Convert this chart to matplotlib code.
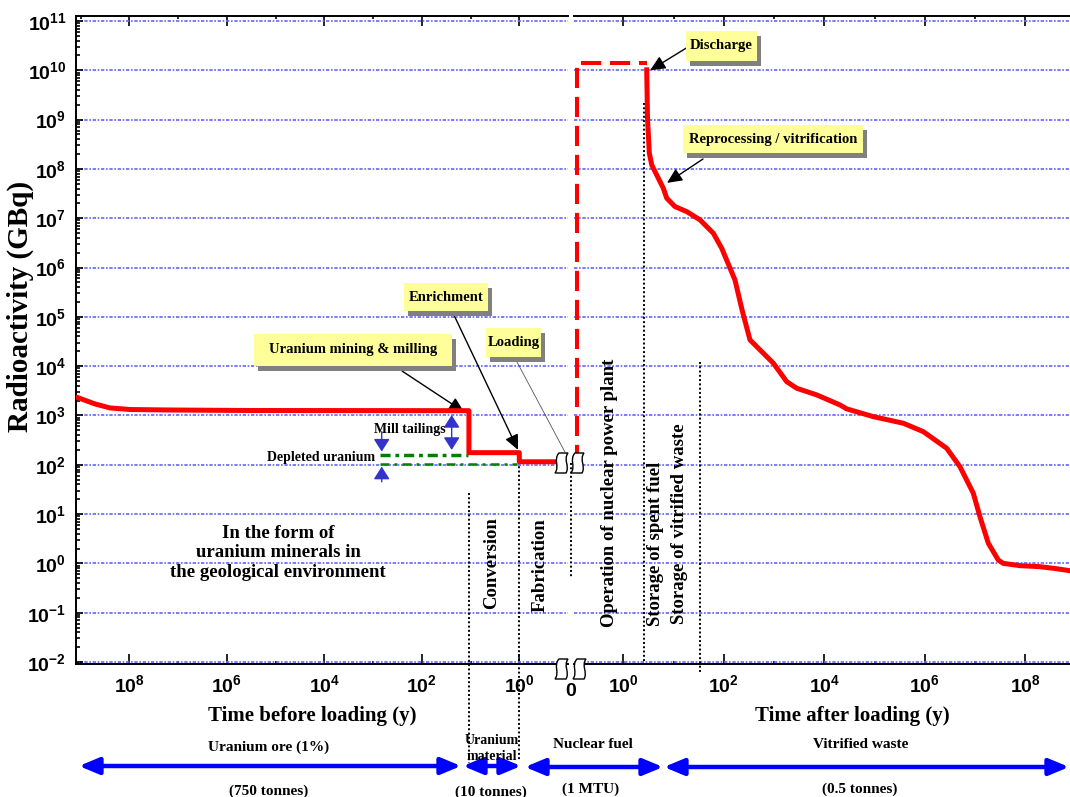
import numpy as np
import matplotlib
matplotlib.use('Agg')
import matplotlib.pyplot as plt
from matplotlib.patches import Rectangle, PathPatch, FancyArrowPatch
from matplotlib.path import Path
from matplotlib.ticker import FixedLocator, FuncFormatter, NullFormatter, LogLocator

plt.rcParams['font.family'] = 'Liberation Serif'
plt.rcParams['font.weight'] = 'bold'
plt.rcParams['mathtext.fontset'] = 'custom'
plt.rcParams['mathtext.bf'] = 'Liberation Sans:bold'
plt.rcParams['mathtext.rm'] = 'Liberation Sans:bold'

W, H = 1070, 797

# --- donnees (temps en annees, activite en GBq) ---
t_avant = [1.24e9, 5.06e8, 2.49e8, 9.7e7, 1.46e7, 3.34e5, 10.8, 10.8, 1.0, 1.0, 0.14]
a_avant = [2370, 1710, 1420, 1320, 1290, 1260, 1250, 176, 176, 115, 115]

t_reacteur = [0.117, 0.117, 2.9]
a_reacteur = [100, 1.38e10, 1.38e10]

t_apres = [2.90, 3.01, 3.27, 3.65, 4.93, 6.21, 7.26, 10.6, 18.2, 33.4, 61.5, 90.4,
           166, 230, 331, 385, 964, 1.78e3, 2.82e3, 7.06e3, 2.06e4, 2.79e4, 9.46e4,
           3.75e5, 9.4e5, 2.74e6, 5.05e6, 9.3e6, 1.26e7, 1.85e7, 2.92e7, 3.68e7,
           7.9e7, 1.98e8, 4.26e8, 7.8e8]
a_apres = [1.02e10, 1.03e9, 2.08e8, 1.2e8, 6.5e7, 4.05e7, 2.55e7, 1.72e7, 1.36e7,
           9.25e6, 4.97e6, 2.46e6, 5.6e5, 1.38e5, 3.4e4, 2.92e4, 1.15e4, 4.86e3,
           3.56e3, 2.61e3, 1.63e3, 1.36e3, 946, 695, 469, 216, 91, 26.4, 8.85, 2.56,
           1.17, 1.0, 0.90, 0.857, 0.78, 0.71]

# residus (mill tailings / depleted uranium)
t_tailings = [720, 11.3]
a_tailings = [160, 160]
t_depleted = [720, 1.13]
a_depleted = [102, 102]

# limites des etapes (traits pointilles verticaux): (axe, t, a_haut, a_bas)
limites = [('avant', 10.8, 26.8, 9e-5),
           ('avant', 1.0, 115, 1.0e-4),
           ('avant', 0.087, 110, 0.506),
           ('apres', 2.56, 2.2e9, 9.1e-3),
           ('apres', 33.4, 1.2e4, 6.3e-3)]

exp_y = list(range(-2, 12))
exp_x_major = [0, 2, 4, 6, 8]
exp_x_minor = [1, 3, 5, 7, 9]


def etiquette(v, pos):
    return r'$\mathbf{10^{%d}}$' % int(round(np.log10(v)))


def fx(x):
    return x / W


def fy(y):
    return 1 - y / H


fig = plt.figure(figsize=(W / 100, H / 100), dpi=100)
ax_b = fig.add_axes([fx(76), fy(664), (568 - 76) / W, (664 - 16) / H])
ax_a = fig.add_axes([fx(574), fy(664), (W - 574) / W, (664 - 16) / H])

for ax in (ax_b, ax_a):
    ax.set_xscale('log')
    ax.set_yscale('log')
    ax.set_ylim(10 ** -2.04, 10 ** 11.10)
    ax.yaxis.set_major_locator(FixedLocator([10.0 ** e for e in exp_y]))
    ax.yaxis.set_minor_locator(LogLocator(base=10, subs=np.arange(2, 10), numticks=100))
    ax.yaxis.set_major_formatter(FuncFormatter(etiquette))
    ax.yaxis.set_minor_formatter(NullFormatter())
    ax.xaxis.set_major_locator(FixedLocator([10.0 ** e for e in exp_x_major]))
    ax.xaxis.set_minor_locator(FixedLocator([10.0 ** e for e in exp_x_minor]))
    ax.xaxis.set_major_formatter(FuncFormatter(etiquette))
    ax.xaxis.set_minor_formatter(NullFormatter())
    ax.yaxis.grid(True, which='major', color='#6464ff', lw=1.2, ls=(0, (2, 1, 1, 1)))
    ax.set_axisbelow(True)
    for s in ax.spines.values():
        s.set_linewidth(1.4)
    ax.tick_params(axis='x', which='both', direction='in', top=True, bottom=True,
                   width=1.2, labelsize=14, pad=7)
    ax.tick_params(axis='x', which='major', length=7)
    ax.tick_params(axis='x', which='minor', length=2.5)
    ax.tick_params(axis='y', which='both', direction='in', width=1.2, labelsize=14, pad=7)
    ax.tick_params(axis='y', which='major', length=5)
    ax.tick_params(axis='y', which='minor', length=3)

ax_b.set_xlim(10 ** 9.094, 10 ** -0.999)
ax_b.spines['right'].set_visible(False)
ax_b.tick_params(axis='y', which='both', right=False)

ax_a.set_xlim(10 ** -0.986, 10 ** 8.894)
ax_a.spines['left'].set_visible(False)
ax_a.spines['right'].set_visible(False)
ax_a.tick_params(axis='y', which='both', left=False, right=False, labelleft=False)

# courbe rouge
ax_b.plot(t_avant, a_avant, color='red', lw=3.6, solid_joinstyle='round', zorder=5)
ax_a.plot(t_reacteur, a_reacteur, color='red', lw=2.9, dashes=(5, 2.2), zorder=5)
ax_a.plot(t_apres, a_apres, color='red', lw=3.6, solid_joinstyle='round', zorder=5)

# residus
ax_b.plot(t_tailings, a_tailings, color='#008000', lw=2.5, dashes=(2.9, 1.4, 1.1, 1.4), zorder=4)
ax_b.plot(t_depleted, a_depleted, color='#008000', lw=1.8, dashes=(3.6, 2, 1.2, 2), zorder=4)

# limites des etapes
for nom, t, a_haut, a_bas in limites:
    axe = ax_b if nom == 'avant' else ax_a
    axe.plot([t, t], [a_haut, a_bas], color='black', lw=1.4, ls=(0, (1, 1.2)),
             clip_on=False, zorder=3)

# fleches bleues mill tailings / depleted
fl_bleu = dict(color='#3333cc', lw=1.0, shrinkA=0, shrinkB=0, mutation_scale=14)
ax_b.annotate('', xy=(24.4, 1020), xytext=(24.4, 200),
              arrowprops=dict(arrowstyle='<|-|>,head_length=0.55,head_width=0.35', **fl_bleu))
ax_b.annotate('', xy=(665, 185), xytext=(665, 470),
              arrowprops=dict(arrowstyle='-|>,head_length=0.55,head_width=0.35', **fl_bleu))
ax_b.annotate('', xy=(665, 91.6), xytext=(665, 45),
              arrowprops=dict(arrowstyle='-|>,head_length=0.55,head_width=0.35', **fl_bleu))

fig.text(fx(409.7), fy(429.3), 'Mill tailings', ha='center', va='center',
         fontsize=10, fontweight='bold')
fig.text(fx(321.5), fy(457), 'Depleted uranium', ha='center', va='center',
         fontsize=10, fontweight='bold')

# texte de la zone geologique
for ligne, yy in zip(['In the form of', 'uranium minerals in', 'the geological environment'],
                     [533.3, 552.7, 572.7]):
    fig.text(fx(278), fy(yy), ligne, ha='center', va='center', fontsize=13.5, fontweight='bold')

# etiquettes verticales des etapes
for txt, xx, yy in [('Conversion', 491.7, 563), ('Fabrication', 540, 565),
                    ('Operation of nuclear power plant', 610, 493),
                    ('Storage of spent fuel', 655, 544),
                    ('Storage of vitrified waste', 679.5, 524)]:
    fig.text(fx(xx), fy(yy), txt, rotation=90, ha='center', va='center',
             fontsize=13.5, fontweight='bold')

# encadres jaunes avec ombre
def encadre(x0, y0, x1, y1, texte, taille=10.5):
    fig.add_artist(Rectangle((fx(x0 + 4), fy(y1 + 5)), (x1 - x0) / W, (y1 - y0) / H,
                             transform=fig.transFigure, fc='#808080', ec='none', zorder=6))
    fig.add_artist(Rectangle((fx(x0), fy(y1)), (x1 - x0) / W, (y1 - y0) / H,
                             transform=fig.transFigure, fc='#ffff99', ec='none', zorder=7))
    fig.text(fx((x0 + x1) / 2), fy((y0 + y1) / 2), texte, ha='center', va='center',
             fontsize=taille, fontweight='bold', zorder=8)


encadre(686, 31, 757, 61, 'Discharge')
encadre(683, 125, 863, 153, 'Reprocessing / vitrification')
encadre(404, 283, 488, 311, 'Enrichment')
encadre(486, 328, 541, 357, 'Loading')
encadre(254, 334, 452, 366, 'Uranium mining & milling')

fl_noir = dict(arrowstyle='-|>,head_length=0.65,head_width=0.3', color='black', lw=1.0,
               mutation_scale=14, shrinkA=0, shrinkB=0)
ax_a.annotate('', xy=(3.4, 1.0e10), xytext=(688, H - 47), textcoords='figure pixels',
              arrowprops=fl_noir, annotation_clip=False)
ax_a.annotate('', xy=(7.35, 5.2e7), xytext=(703, H - 159), textcoords='figure pixels',
              arrowprops=fl_noir, annotation_clip=False)
ax_b.annotate('', xy=(1.06, 200), xytext=(453, H - 313), textcoords='figure pixels',
              arrowprops=fl_noir, annotation_clip=False)
ax_b.annotate('', xy=(13.6, 1180), xytext=(402, H - 371), textcoords='figure pixels',
              arrowprops=fl_noir, annotation_clip=False)
ax_b.annotate('', xy=(0.116, 182), xytext=(517, H - 362), textcoords='figure pixels',
              arrowprops=dict(arrowstyle='-', color='#555555', lw=0.6, shrinkA=0, shrinkB=0),
              annotation_clip=False)

# symboles de coupure
def coupure(cx, cy, w=10, h=20):
    pts = [(cx - w / 2 + 2, cy - h / 2), (cx + w / 2 + 1, cy - h / 2),
           (cx + w / 2 - 4, cy - h / 6), (cx + w / 2 + 3, cy + h / 6), (cx + w / 2 - 1, cy + h / 2),
           (cx - w / 2 - 2, cy + h / 2),
           (cx - w / 2 + 3, cy + h / 6), (cx - w / 2 - 4, cy - h / 6), (cx - w / 2 + 2, cy - h / 2),
           (cx - w / 2 + 2, cy - h / 2)]
    codes = [Path.MOVETO, Path.LINETO, Path.CURVE4, Path.CURVE4, Path.CURVE4, Path.LINETO,
             Path.CURVE4, Path.CURVE4, Path.CURVE4, Path.CLOSEPOLY]
    verts = [(x / 100, (H - y) / 100) for x, y in pts]
    fig.add_artist(PathPatch(Path(verts, codes), fc='white', ec='black', lw=1.0,
                             transform=fig.dpi_scale_trans, zorder=9))


coupure(562, 463)
coupure(578, 463)
coupure(562, 669)
coupure(580, 669)
fig.text(fx(571), fy(691), '0', ha='center', va='center', fontsize=14, fontweight='bold',
         family='Liberation Sans')

# titres des axes
fig.text(fx(20), fy(306), 'Radioactivity (GBq)', rotation=90, ha='center', va='center',
         fontsize=21, fontweight='bold')
fig.text(fx(312), fy(716), 'Time before loading (y)', ha='center', va='center',
         fontsize=15, fontweight='bold')
fig.text(fx(852), fy(716), 'Time after loading (y)', ha='center', va='center',
         fontsize=15, fontweight='bold')

# bande du bas : matieres
def fleche_bleue(x0, x1, y, style):
    fig.add_artist(FancyArrowPatch((x0 / 100, (H - y) / 100), (x1 / 100, (H - y) / 100),
                                   transform=fig.dpi_scale_trans, arrowstyle=style,
                                   mutation_scale=20, color='#0000ff', lw=3.2,
                                   shrinkA=0, shrinkB=0))


fleche_bleue(79, 461, 766, '<|-|>,head_length=0.6,head_width=0.25')
fleche_bleue(463, 521, 766, '<|-|>,head_length=0.6,head_width=0.25')
fleche_bleue(525, 663, 767, '<|-|>,head_length=0.6,head_width=0.25')
fleche_bleue(664, 1069, 767, '<|-|>,head_length=0.6,head_width=0.25')

for txt, xx, yy, taille in [('Uranium ore (1%)', 269, 747, 11), ('(750 tonnes)', 269, 791, 11),
                            ('Uranium', 492, 740, 10), ('material', 492, 756, 10),
                            ('(10 tonnes)', 491, 792, 11),
                            ('Nuclear fuel', 593, 745, 11), ('(1 MTU)', 591, 789, 11),
                            ('Vitrified waste', 861, 745, 11), ('(0.5 tonnes)', 860, 789, 11)]:
    fig.text(fx(xx), fy(yy), txt, ha='center', va='center', fontsize=taille, fontweight='bold')

fig.savefig('out.png', dpi=100)
